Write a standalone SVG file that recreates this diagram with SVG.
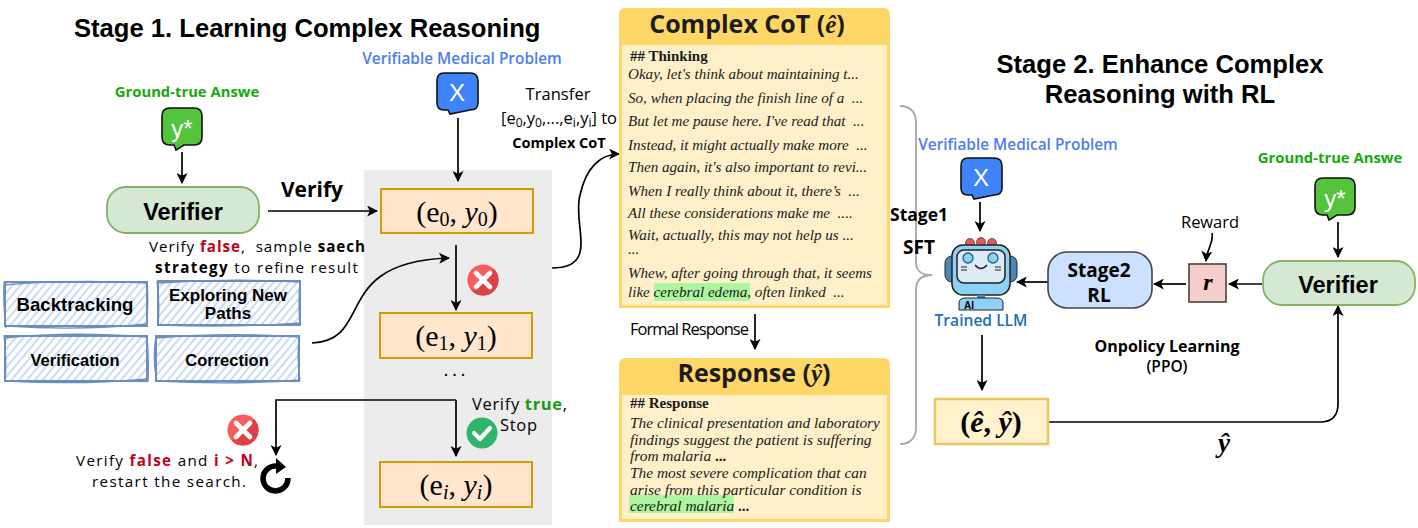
<svg xmlns="http://www.w3.org/2000/svg" width="1418" height="528" viewBox="0 0 1418 528">
<defs>
<style>
text{fill:#000;font-family:"Liberation Sans",Arial,sans-serif}
.h{font-weight:700;font-size:25.6px}
.c{font-family:"Open Sans","Noto Sans",sans-serif;font-size:16.5px;white-space:pre}
.c2{font-size:15.2px}
.cb{font-family:"Open Sans","Noto Sans",sans-serif;font-size:14.5px;font-weight:700}
.blue{font-family:"Open Sans","Noto Sans",sans-serif;font-size:15.4px;font-weight:600;fill:#4d7df0}
.green{font-family:"Open Sans","Noto Sans",sans-serif;font-size:14.8px;font-weight:700;fill:#17a80f}
.red{fill:#c4001a;font-weight:700}
.grn{fill:#169c10;font-weight:700}
.s{font-weight:700;font-size:16.5px;text-anchor:middle}
.m{font-family:"Liberation Serif",serif;font-size:30px;text-anchor:middle}
.mi{font-style:italic}
.t{font-family:"Liberation Serif",serif;font-style:italic;font-size:15.1px;fill:#1a1a1a;white-space:pre}
.r{font-size:15.4px}
.tb{font-family:"Liberation Serif",serif;font-weight:700;font-style:normal;font-size:15px;fill:#1a1a1a}
.title{font-family:"Open Sans","Noto Sans",sans-serif;font-weight:700;font-size:25px;text-anchor:middle;fill:#1c1c1c}
.ln{fill:none;stroke:#000;stroke-width:1.7}
.ar{marker-end:url(#a)}
.sk{fill:url(#hatch);stroke:#6c8ebf;stroke-width:2}
.sk2{fill:none;stroke:#6c8ebf;stroke-width:1.3}
.st{fill:#ffe6cc;stroke:#d79b00;stroke-width:2}
.v{fill:#d5e8d4;stroke:#82b366;stroke-width:1.8}
</style>
<marker id="a" viewBox="0 0 10 10" refX="9" refY="5" markerWidth="11" markerHeight="11" markerUnits="userSpaceOnUse" orient="auto"><path d="M0 0L10 5L0 10L2.5 5Z" fill="#000"/></marker>
<pattern id="hatch" width="6" height="6" patternUnits="userSpaceOnUse" patternTransform="rotate(40)"><rect width="6" height="6" fill="#fff"/><line x1="1" y1="0" x2="1" y2="6" stroke="#c9daf4" stroke-width="2"/></pattern>
<g id="xbadge"><circle r="15.5" fill="#fa5c5c"/><path d="M0 0L11 -11A15.5 15.5 0 0 1 -11 11Z" fill="#dc4248"/><path d="M-7-7L7 7M7-7L-7 7" stroke="#fff" stroke-width="4.6" stroke-linecap="round"/></g>
</defs>
<rect width="1418" height="528" fill="#fff"/>

<g id="panel"><rect x="364" y="170" width="188" height="355" fill="#ececec"/></g>

<g id="titles">
<text x="74" y="37" class="h">Stage 1. Learning Complex Reasoning</text>
<text x="1160" y="73" class="h" text-anchor="middle">Stage 2. Enhance Complex</text>
<text x="1160" y="103" class="h" text-anchor="middle">Reasoning with RL</text>
</g>

<g id="connectors">
<path class="ln ar" d="M458 118V181"/>
<path class="ln ar" d="M182 152V183"/>
<path class="ln ar" d="M268 211H377"/>
<path class="ln" d="M456 245V271"/>
<path class="ln ar" d="M456 271V310"/>
<path class="ln ar" d="M456 400V456"/>
<path class="ln ar" d="M456 400H276V455"/>
<path class="ln ar" d="M312 343C375 340 330 262 449 258"/>
<path class="ln ar" d="M552 268C600 268 572 225 580 195C586 168 600 154 619 154"/>
<path class="ln ar" d="M755 314V349"/>
<path class="ln ar" d="M980 202V231"/>
<path class="ln ar" d="M982 335V390"/>
<path class="ln ar" d="M1048 282H1017"/>
<path class="ln ar" d="M1186 284H1154"/>
<path class="ln ar" d="M1262 284H1229"/>
<path class="ln ar" d="M1338 222V257"/>
<path class="ln ar" d="M1212 233C1214 243 1207 248 1206 261"/>
<path class="ln ar" d="M1049 422H1320Q1338 422 1338 404V306"/>
</g>

<g id="brace" fill="none" stroke="#a8a8a8" stroke-width="1.8">
<path d="M900 106C910 106 916 112 916 122V262C916 272 922 275 932 275C922 275 916 280 916 290V428C916 438 910 444 900 444"/>
</g>

<g id="label-verifiable-1"><text x="462" y="64" class="blue" text-anchor="middle">Verifiable Medical Problem</text></g>
<g id="node-x1">
<path d="M444 73H470Q478 73 478 81V103Q478 110 470 110L450 114L448 110H444Q437 110 437 103V81Q437 73 444 73Z" fill="#3f83f8" stroke="#111" stroke-width="1.6"/>
<text x="457" y="101" font-size="24" text-anchor="middle" style="fill:#fff">X</text>
</g>
<g id="label-gt-1"><text x="187" y="97" class="green" text-anchor="middle">Ground-true Answe</text></g>
<g id="node-y1">
<path d="M170 108H194Q202 108 202 116V137Q202 145 194 145H184L176 150L174 145H170Q162 145 162 137V116Q162 108 170 108Z" fill="#55c43d" stroke="#111" stroke-width="1.6"/>
<text x="182" y="137" font-size="24" text-anchor="middle" style="fill:#fff">y*</text>
</g>
<g id="node-verifier1">
<rect x="107" y="187" width="152" height="46" rx="19" class="v"/>
<text x="183" y="220" font-size="23.5" font-weight="700" text-anchor="middle">Verifier</text>
</g>
<g id="label-verify"><text x="312" y="197" class="cb" style="font-size:21px" text-anchor="middle">Verify</text></g>
<g id="label-false">
<text x="149" y="252" class="c c2" textLength="216">Verify <tspan class="red">false</tspan>,  sample <tspan font-weight="700">saech</tspan></text>
<text x="155" y="273" class="c c2" textLength="203"><tspan font-weight="700">strategy</tspan> to refine result</text>
</g>
<g id="node-backtracking"><rect x="5" y="282" width="142" height="44" class="sk"/><path d="M4 285Q70 279 147 283M6 326Q80 331 147 324M4 282Q3 305 6 328M147 282Q149 305 146 327" class="sk2"/><text x="75" y="311" class="s" style="font-size:18.6px">Backtracking</text></g>
<g id="node-exploring"><rect x="158" y="281" width="142" height="44" class="sk"/><path d="M158 283Q230 278 300 282M160 325Q230 328 301 323M157 281Q160 303 158 326M300 281Q298 303 300 325" class="sk2"/><text x="228" y="301" class="s" style="font-size:17px">Exploring New</text><text x="228" y="319" class="s" style="font-size:17px">Paths</text></g>
<g id="node-verification"><rect x="5" y="336" width="142" height="45" class="sk"/><path d="M4 338Q70 331 147 337M6 381Q80 385 148 379M4 335Q7 360 5 382M147 336Q149 360 148 382" class="sk2"/><text x="75" y="366" class="s">Verification</text></g>
<g id="node-correction"><rect x="156" y="336" width="143" height="45" class="sk"/><path d="M156 338Q230 332 299 337M157 381Q230 385 300 380M156 335Q152 360 157 381M299 336Q297 360 300 381" class="sk2"/><text x="227" y="366" class="s">Correction</text></g>

<g id="node-e0"><rect x="381" y="189" width="152" height="44" class="st"/><text x="457" y="222" class="m">(e<tspan font-size="20" dy="4">0</tspan><tspan dy="-4">, </tspan><tspan class="mi">y</tspan><tspan font-size="20" dy="4">0</tspan><tspan dy="-4">)</tspan></text></g>
<g id="node-e1"><rect x="380" y="313" width="152" height="45" class="st"/><text x="456" y="346" class="m">(e<tspan font-size="20" dy="4">1</tspan><tspan dy="-4">, </tspan><tspan class="mi">y</tspan><tspan font-size="20" dy="4">1</tspan><tspan dy="-4">)</tspan></text></g>
<g id="node-ei"><rect x="380" y="462" width="152" height="45" class="st"/><text x="456" y="495" class="m">(e<tspan font-size="20" dy="4" class="mi">i</tspan><tspan dy="-4">, </tspan><tspan class="mi">y</tspan><tspan font-size="20" dy="4" class="mi">i</tspan><tspan dy="-4">)</tspan></text></g>
<g id="label-dots"><text x="456" y="376" font-size="20" letter-spacing="3" text-anchor="middle">...</text></g>
<g id="badge-x1"><use href="#xbadge" x="483" y="280"/></g>
<g id="badge-x2"><use href="#xbadge" x="243" y="430"/></g>
<g id="badge-check"><circle cx="482" cy="433" r="15.5" fill="#2fb56a"/><path d="M474 433L480 439L490 428" fill="none" stroke="#fff" stroke-width="4.2" stroke-linecap="round" stroke-linejoin="round"/></g>
<g id="label-true"><text x="472" y="410" class="c" textLength="95">Verify <tspan class="grn">true</tspan>,</text><text x="500" y="431" class="c" textLength="37">Stop</text></g>
<g id="label-restart">
<text x="76" y="466" class="c c2" textLength="182">Verify <tspan class="red">false</tspan> and <tspan class="red">i &gt; N</tspan>,</text>
<text x="92" y="487" class="c c2" textLength="154">restart the search.</text>
</g>
<g id="icon-restart"><path d="M277 466A12.5 12.5 0 1 0 288 478" fill="none" stroke="#000" stroke-width="5.5"/><path d="M276 458L286 467L276 474Z" fill="#000"/></g>

<g id="label-transfer">
<text x="558" y="100" class="c" text-anchor="middle" textLength="65">Transfer</text>
<text x="559" y="124" class="c" text-anchor="middle" textLength="116">[e<tspan font-size="12" dy="3">0</tspan><tspan dy="-3">,y</tspan><tspan font-size="12" dy="3">0</tspan><tspan dy="-3">,...,e</tspan><tspan font-size="12" dy="3">i</tspan><tspan dy="-3">,y</tspan><tspan font-size="12" dy="3">i</tspan><tspan dy="-3">] to</tspan></text>
<text x="559" y="148" class="cb" text-anchor="middle">Complex CoT</text>
</g>

<g id="node-cot">
<path d="M626 8H883Q890 8 890 15V308H619V15Q619 8 626 8Z" fill="#ffd766"/>
<rect x="622" y="45" width="265" height="260" fill="#fff0c9"/>
<text x="747" y="33" class="title">Complex CoT (<tspan font-style="italic" style="font-family:'Liberation Serif',serif">ê</tspan>)</text>
<text x="630" y="61" class="tb">## Thinking</text>
<rect x="654" y="283" width="96" height="18" fill="#aef5a0"/>
<text x="628" y="79" class="t">Okay, let's think about maintaining t...</text>
<text x="628" y="103" class="t">So, when placing the finish line of a  ...</text>
<text x="628" y="126" class="t">But let me pause here. I've read that  ...</text>
<text x="628" y="150" class="t">Instead, it might actually make more  ...</text>
<text x="628" y="172" class="t">Then again, it's also important to revi...</text>
<text x="628" y="196" class="t">When I really think about it, there’s  ...</text>
<text x="628" y="218" class="t">All these considerations make me  ....</text>
<text x="628" y="240" class="t">Wait, actually, this may not help us ...</text>
<text x="628" y="254" class="t">...</text>
<text x="628" y="278" class="t">Whew, after going through that, it seems</text>
<text x="628" y="297" class="t">like cerebral edema, often linked  ...</text>
</g>

<g id="label-formal"><text x="630" y="335" class="c" textLength="119">Formal Response</text></g>

<g id="node-response">
<path d="M626 358H883Q890 358 890 365V522H619V365Q619 358 626 358Z" fill="#ffd766"/>
<rect x="622" y="395" width="265" height="124" fill="#fff0c9"/>
<text x="754" y="382" class="title">Response (<tspan font-style="italic" style="font-family:'Liberation Serif',serif">ŷ</tspan>)</text>
<text x="630" y="408" class="tb">## Response</text>
<rect x="629" y="495" width="105" height="18" fill="#aef5a0"/>
<text x="630" y="428" class="t r">The clinical presentation and laboratory</text>
<text x="630" y="445" class="t r">findings suggest the patient is suffering</text>
<text x="630" y="461" class="t r">from malaria <tspan class="tb">...</tspan></text>
<text x="630" y="478" class="t r">The most severe complication that can</text>
<text x="630" y="495" class="t r">arise from this particular condition is</text>
<text x="630" y="511" class="t r">cerebral malaria <tspan class="tb">...</tspan></text>
</g>

<g id="label-verifiable-2"><text x="1018" y="150" class="blue" text-anchor="middle">Verifiable Medical Problem</text></g>
<g id="node-x2">
<path d="M968 158H994Q1002 158 1002 166V188Q1002 195 994 195L974 199L972 195H968Q961 195 961 188V166Q961 158 968 158Z" fill="#3f83f8" stroke="#111" stroke-width="1.6"/>
<text x="981" y="186" font-size="24" text-anchor="middle" style="fill:#fff">X</text>
</g>
<g id="label-sft"><text x="890" y="221" class="cb" style="font-size:17.5px">Stage1</text><text x="903" y="254" class="cb" style="font-size:19px">SFT</text></g>

<g id="node-llm">
<circle cx="970" cy="243" r="4.5" fill="#e05a5a" stroke="#222" stroke-width=".6"/><circle cx="981" cy="242" r="4.5" fill="#e05a5a" stroke="#222" stroke-width=".6"/><circle cx="992" cy="243" r="4.5" fill="#e05a5a" stroke="#222" stroke-width=".6"/>
<rect x="945" y="256" width="14" height="26" rx="7" fill="#4f85b5" stroke="#222" stroke-width="1"/>
<rect x="1003" y="256" width="14" height="26" rx="7" fill="#4f85b5" stroke="#222" stroke-width="1"/>
<rect x="952" y="245" width="58" height="50" rx="11" fill="#8fd0f5" stroke="#222" stroke-width="1.5"/>
<rect x="957" y="250" width="48" height="33" rx="7" fill="#dcebf7" stroke="#222" stroke-width="1.5"/>
<circle cx="968" cy="258" r="5" fill="#8fd0f5" stroke="#1e5f8f" stroke-width="1.3"/>
<circle cx="993" cy="258" r="5" fill="#8fd0f5" stroke="#1e5f8f" stroke-width="1.3"/>
<path d="M975 265Q981 272 987 265" fill="none" stroke="#222" stroke-width="1.4"/>
<path d="M961 267H967M961 270H967M995 267H1001M995 270H1001" stroke="#222" stroke-width="1.1"/>
<rect x="977" y="295" width="8" height="6" fill="#4f85b5"/>
<path d="M959 310V303Q959 298 966 298H996Q1003 298 1003 303V310Z" fill="#8fd0f5" stroke="#222" stroke-width="1"/>
<text x="964" y="309" font-size="10" font-weight="700">AI</text>
</g>
<g id="label-trained"><text x="981" y="326" class="blue" style="fill:#1d6fb5;font-size:15.6px" text-anchor="middle">Trained LLM</text></g>

<g id="node-stage2"><rect x="1048" y="252" width="104" height="56" rx="19" fill="#cce0ff" stroke="#444" stroke-width="1.6"/><text x="1099" y="277" class="cb" style="font-size:19px" text-anchor="middle">Stage2</text><text x="1099" y="302" class="cb" style="font-size:19px" text-anchor="middle">RL</text></g>
<g id="node-r"><rect x="1189" y="264" width="37" height="38" fill="#f8cecc" stroke="#444" stroke-width="1.6"/><text x="1208" y="290" font-size="24" font-weight="700" font-style="italic" text-anchor="middle" style="font-family:'Liberation Serif',serif">r</text></g>
<g id="label-reward"><text x="1210" y="228" class="c" text-anchor="middle" textLength="58">Reward</text></g>
<g id="label-gt-2"><text x="1330" y="163" class="green" text-anchor="middle">Ground-true Answe</text></g>
<g id="node-y2">
<path d="M1323 178H1347Q1355 178 1355 186V207Q1355 215 1347 215H1337L1329 220L1327 215H1323Q1315 215 1315 207V186Q1315 178 1323 178Z" fill="#55c43d" stroke="#111" stroke-width="1.6"/>
<text x="1335" y="207" font-size="24" text-anchor="middle" style="fill:#fff">y*</text>
</g>
<g id="node-verifier2"><rect x="1263" y="261" width="152" height="44" rx="19" class="v"/><text x="1338" y="293" font-size="23.5" font-weight="700" text-anchor="middle">Verifier</text></g>
<g id="label-ppo"><text x="1167" y="352" class="cb" style="font-size:16px" text-anchor="middle">Onpolicy Learning</text><text x="1167" y="372" class="cb" style="font-weight:600;font-size:15.5px" text-anchor="middle">(PPO)</text></g>
<g id="node-eyhat"><rect x="935" y="399" width="113" height="45" fill="#fff2cc" stroke="#e8c75e" stroke-width="2.5"/><text x="991" y="432" text-anchor="middle" style="font-family:'Liberation Serif',serif;font-size:30px;font-weight:700">(<tspan font-style="italic">ê</tspan>, <tspan font-style="italic">ŷ</tspan>)</text></g>
<g id="label-yhat"><text x="1224" y="452" text-anchor="middle" style="font-family:'Liberation Serif',serif;font-size:27px;font-weight:700;font-style:italic">ŷ</text></g>
</svg>
